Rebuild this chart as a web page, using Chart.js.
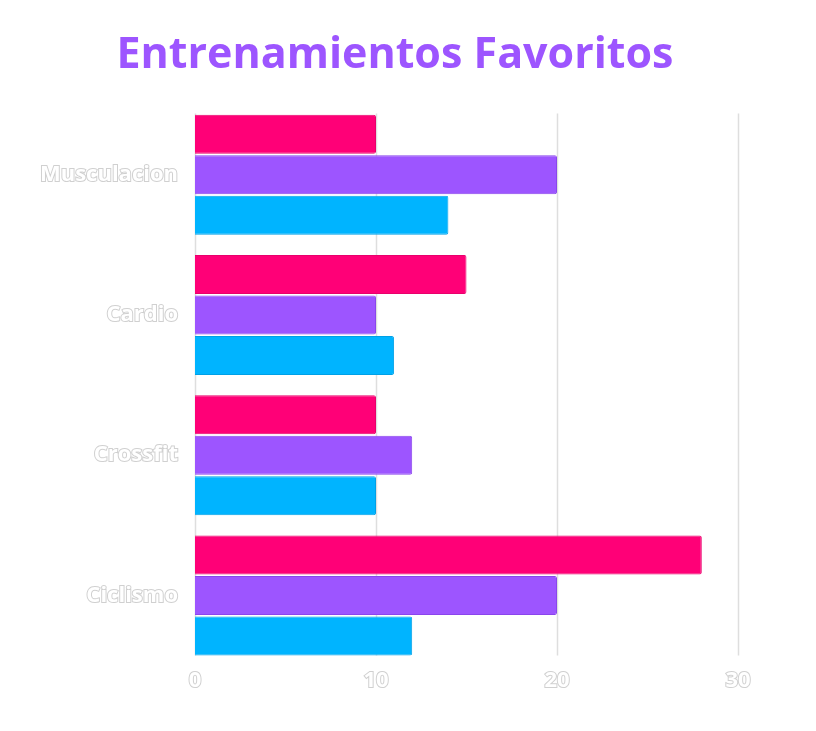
<!DOCTYPE html>
<html>
<head>
<meta charset="utf-8">
<script src="https://cdn.jsdelivr.net/npm/chart.js@4/dist/chart.umd.min.js"></script>
<style>
html,body{margin:0;padding:0;background:#fff;overflow:hidden;}
#wrap{width:790px;height:731px;}
</style>
</head>
<body>
<div id="wrap"><canvas id="c"></canvas></div>
<script>
const categories = ['Musculacion', 'Cardio', 'Crossfit', 'Ciclismo'];
const seriesNames = ['Serie 1', 'Serie 2', 'Serie 3'];
const serie1 = [10, 15, 10, 28];
const serie2 = [20, 10, 12, 20];
const serie3 = [14, 11, 10, 12];
const xTicks = [0, 10, 20, 30];
const titleText = 'Entrenamientos Favoritos';

const fills = ['#ff0077', '#9d55ff', '#00b4ff'];
const borders = ['#e8006c', '#8a45ec', '#00a0e6'];

const gridPlugin = {
  id: 'insetGrid',
  beforeDatasetsDraw(chart) {
    const {ctx, chartArea, scales} = chart;
    ctx.save();
    ctx.strokeStyle = '#dedede';
    ctx.lineWidth = 1.5;
    xTicks.forEach(v => {
      const x = Math.round(scales.x.getPixelForValue(v)) + 0.5;
      ctx.beginPath();
      ctx.moveTo(x, chartArea.top + 9);
      ctx.lineTo(x, chartArea.bottom - 10);
      ctx.stroke();
    });
    ctx.restore();
  }
};

const tickFont = {family: '"Open Sans", sans-serif', size: 22, weight: 'bold'};

new Chart(document.getElementById('c'), {
  type: 'bar',
  data: {
    labels: categories,
    datasets: [serie1, serie2, serie3].map((d, i) => ({
      label: seriesNames[i],
      data: d,
      backgroundColor: fills[i],
      borderColor: borders[i],
      borderWidth: 1,
      borderRadius: 2,
      borderSkipped: 'start',
      categoryPercentage: 0.867,
      barPercentage: 0.96
    }))
  },
  options: {
    indexAxis: 'y',
    responsive: true,
    maintainAspectRatio: false,
    animation: false,
    layout: {padding: {left: 52, right: 52, top: 0, bottom: 35}},
    plugins: {
      legend: {display: false},
      tooltip: {enabled: false},
      title: {
        display: true,
        text: titleText,
        color: '#9d55ff',
        font: {family: '"Open Sans", sans-serif', size: 43, weight: 'bold'},
        padding: {top: 30, bottom: 23}
      }
    },
    scales: {
      x: {
        min: 0,
        max: 30,
        afterBuildTicks(scale) { scale.ticks = xTicks.map(v => ({value: v})); },
        grid: {display: false, drawTicks: false},
        border: {display: false},
        ticks: {
          color: '#ffffff',
          textStrokeColor: '#d0d0d0',
          textStrokeWidth: 2,
          font: tickFont,
          padding: 2,
          maxRotation: 0
        }
      },
      y: {
        afterFit(scale) {
          scale.width = 143;
          scale._computeLabelArea = () => undefined;
        },
        grid: {display: false, drawTicks: false},
        border: {display: false},
        ticks: {
          color: '#ffffff',
          textStrokeColor: '#d0d0d0',
          textStrokeWidth: 2,
          font: tickFont,
          padding: 17
        }
      }
    }
  },
  plugins: [gridPlugin]
});
</script>
</body>
</html>
